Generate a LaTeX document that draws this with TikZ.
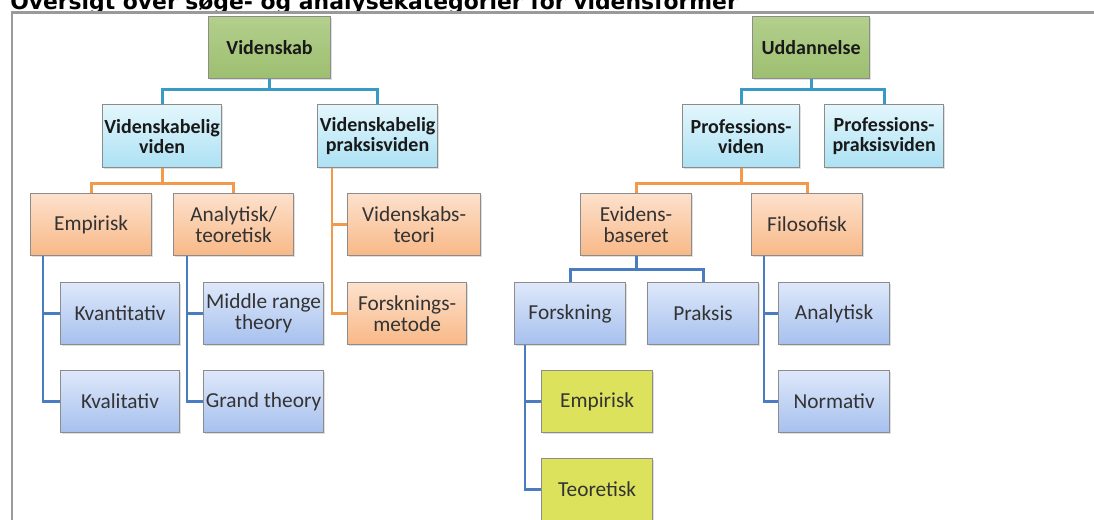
\documentclass[tikz,border=0pt]{standalone}
\usepackage{fontspec}
\setmainfont{Carlito}
\newfontfamily\titlefont{DejaVu Sans}
\usetikzlibrary{calc,shadows}

\definecolor{frameGray}{HTML}{9A9A9A}
\definecolor{boxBorder}{HTML}{8C8C8C}
\definecolor{greenTop}{HTML}{B3CF8C}
\definecolor{greenBot}{HTML}{9DBF70}
\definecolor{cyanTop}{HTML}{E3F6FC}
\definecolor{cyanBot}{HTML}{ACE1F4}
\definecolor{orangeTop}{HTML}{FDE1CC}
\definecolor{orangeBot}{HTML}{F8B887}
\definecolor{blueTop}{HTML}{DEE8FA}
\definecolor{blueBot}{HTML}{A6C0EE}
\definecolor{yellowFill}{HTML}{DDE25C}
\definecolor{tealLine}{HTML}{3A9AC6}
\definecolor{orangeLine}{HTML}{F2994A}
\definecolor{blueLine}{HTML}{4A7DC0}

\begin{document}
\begin{tikzpicture}[x=0.75pt,y=0.75pt,yscale=-1,xscale=1,
  box/.style={draw=boxBorder, line width=0.9pt, anchor=north west, align=center,
    inner sep=0pt, minimum height=62*0.75pt, text=black!80,
    font=\fontsize{16}{16}\selectfont,
    drop shadow={opacity=0.25, shadow xshift=1.2pt, shadow yshift=-1.2pt}},
  wd/.style={minimum width=#1*0.75pt},
  rootbox/.style={box, top color=greenTop, bottom color=greenBot, text=black!90,
    font=\fontsize{15}{15}\selectfont\bfseries},
  knowbox/.style={box, top color=cyanTop, bottom color=cyanBot, text=black!90,
    font=\fontsize{15}{15}\selectfont\bfseries},
  kindbox/.style={box, top color=orangeTop, bottom color=orangeBot},
  typebox/.style={box, top color=blueTop, bottom color=blueBot},
  leafbox/.style={box, fill=yellowFill},
  tealwire/.style={draw=tealLine, line width=2.2pt},
  orangewire/.style={draw=orangeLine, line width=2.2pt},
  bluewire/.style={draw=blueLine, line width=2.2pt}]
\useasboundingbox (0,0) rectangle (1094,520);

% title and frame
\node (title) [anchor=base west, inner sep=0pt, font=\titlefont\fontsize{16.4}{16.4}\selectfont\bfseries]
  at (10,9.5) {Oversigt over søge- og analysekategorier for vidensformer};
\draw[frameGray, line width=1.6pt] (1094,12.5) -- (12,12.5) -- (12,520);

% left tree
\node (vsk) [rootbox, wd=122] at (208,16) {Videnskab};
\node (vv) [knowbox, wd=119, minimum height=63*0.75pt] at (102,104) {Videnskabelig\\viden};
\node (vp) [knowbox, wd=120, minimum height=63*0.75pt] at (317,104) {Videnskabelig\\praksisviden};
\node (emp) [kindbox, wd=121] at (30,193) {Empirisk};
\node (ana) [kindbox, wd=120] at (173,193) {Analytisk/\\teoretisk};
\node (vst) [kindbox, wd=133] at (347,193) {Videnskabs-\\teori};
\node (fme) [kindbox, wd=119] at (347,282) {Forsknings-\\metode};
\node (kvt) [typebox, wd=119] at (60,282) {Kvantitativ};
\node (kvl) [typebox, wd=119] at (60,370) {Kvalitativ};
\node (mrt) [typebox, wd=120] at (203,282) {Middle range\\theory};
\node (grt) [typebox, wd=120] at (203,370) {Grand theory};

% right tree
\node (udd) [rootbox, wd=117] at (752,16) {Uddannelse};
\node (pv) [knowbox, wd=117, minimum height=63*0.75pt] at (682,104) {Professions-\\viden};
\node (ppv) [knowbox, wd=119, minimum height=63*0.75pt] at (824,104) {Professions-\\praksisviden};
\node (evb) [kindbox, wd=111] at (580,193) {Evidens-\\baseret};
\node (fil) [kindbox, wd=111] at (751,193) {Filosofisk};
\node (fsk) [typebox, wd=111] at (514,282) {Forskning};
\node (prk) [typebox, wd=111] at (647,282) {Praksis};
\node (anl) [typebox, wd=111] at (778,282) {Analytisk};
\node (nrm) [typebox, wd=111] at (778,370) {Normativ};
\node (emp2) [leafbox, wd=111] at (541,370) {Empirisk};
\node (teo) [leafbox, wd=111] at (541,458) {Teoretisk};

% connectors
\draw[tealwire] (vsk.south) -- ++(0,10) -| (vv.north);
\draw[tealwire] (vsk.south) -- ++(0,10) -| (vp.north);
\draw[orangewire] (vv.south) -- ++(0,15) -| (emp.north);
\draw[orangewire] (vv.south) -- ++(0,15) -| (ana.north);
\draw[orangewire] ($(vp.south west)+(15,0)$) |- (vst.west);
\draw[orangewire] ($(vp.south west)+(15,0)$) |- (fme.west);
\draw[bluewire] ($(emp.south west)+(13,0)$) |- (kvt.west);
\draw[bluewire] ($(emp.south west)+(13,0)$) |- (kvl.west);
\draw[bluewire] ($(ana.south west)+(14,0)$) |- (mrt.west);
\draw[bluewire] ($(ana.south west)+(14,0)$) |- (grt.west);

\draw[tealwire] (udd.south) -- ++(0,10) -| (pv.north);
\draw[tealwire] (udd.south) -- ++(0,10) -| (ppv.north);
\draw[orangewire] (pv.south) -- ++(0,15) -| (evb.north);
\draw[orangewire] (pv.south) -- ++(0,15) -| (fil.north);
\draw[bluewire] (evb.south) -- ++(0,13) -| (fsk.north);
\draw[bluewire] (evb.south) -- ++(0,13) -| (prk.north);
\draw[bluewire] ($(fil.south west)+(13,0)$) |- (anl.west);
\draw[bluewire] ($(fil.south west)+(13,0)$) |- (nrm.west);
\draw[bluewire] ($(fsk.south west)+(11,0)$) |- (emp2.west);
\draw[bluewire] ($(fsk.south west)+(11,0)$) |- (teo.west);
\end{tikzpicture}
\end{document}
